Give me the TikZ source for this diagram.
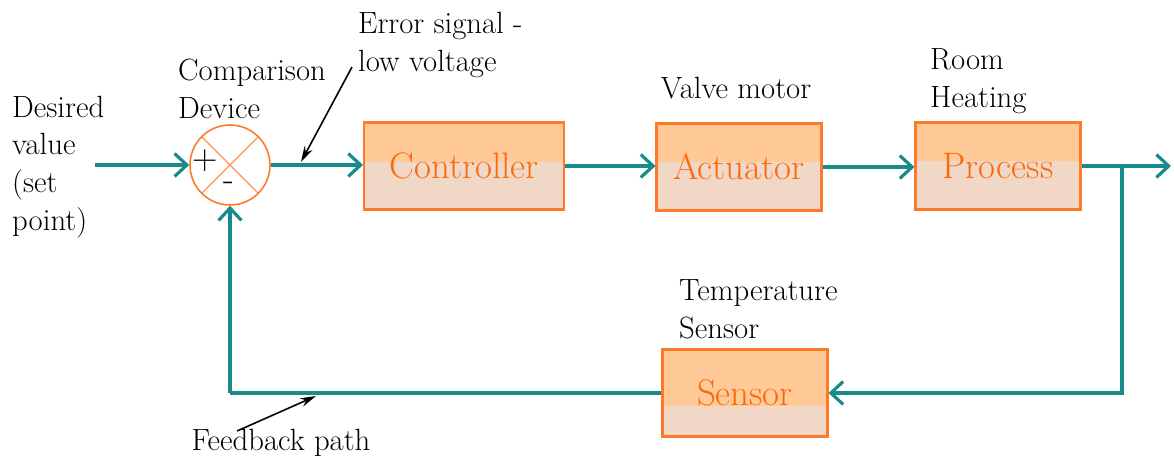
\documentclass[tikz,border=0pt]{standalone}
\usepackage{fontspec}
\usepackage{xcolor}
\usetikzlibrary{arrows.meta, positioning, calc}

\definecolor{sigline}{RGB}{24,138,138}
\definecolor{boxtop}{RGB}{255,202,152}
\definecolor{boxbot}{RGB}{240,215,198}
\definecolor{boxedge}{RGB}{255,122,40}
\definecolor{boxtext}{RGB}{255,104,10}

\begin{document}
\begin{tikzpicture}[
    x=0.02cm, y=-0.02cm,
    >=Stealth,
    every node/.style={font=\fontsize{17.5}{21.5}\selectfont, align=left},
    sig/.style={-{Straight Barb[length=7pt, width=13pt, line width=1.8pt]}, line width=2pt, sigline},
    wire/.style={line width=2pt, sigline},
    pointer/.style={-{Stealth[length=9pt, width=5pt]}, line width=0.9pt, black},
    block/.style={
      rectangle, draw=boxedge, line width=1.2pt, fill=boxtop,
      text=boxtext, font=\fontsize{21}{24}\selectfont,
      minimum width=3.3cm, minimum height=1.74cm,
      path picture={\fill[boxbot] (path picture bounding box.south west)
        rectangle ([yshift=#1]path picture bounding box.east);}
    },
    summer/.style={
      circle, draw=boxedge, line width=0.9pt, fill=white,
      minimum size=1.6cm, inner sep=0pt,
      path picture={\draw[boxedge!80, line width=0.8pt]
        (path picture bounding box.north west) -- (path picture bounding box.south east)
        (path picture bounding box.north east) -- (path picture bounding box.south west);}
    }
  ]

    \useasboundingbox[fill=white] (0,0) rectangle (1174,463);

    % Forward path
    \node[summer] (sum) at (230,165) {};
    \node[font=\fontsize{20}{20}\selectfont] (plus) at (205,161) {+};
    \node[font=\fontsize{20}{20}\selectfont] (minus) at (229,186) {-};

    \node[block=0.08cm, minimum width=4cm] (ctrl) at (464,166) {Controller};
    \node[block=0.1cm] (act)  at (739,167) {Actuator};
    \node[block=0.11cm] (proc) at (998,166) {Process};

    % Feedback path
    \node[block=-0.26cm] (sens) at (745,393) {Sensor};

    % Labels
    \node[anchor=west] (desired) at (6,167) {Desired\\value\\(set\\point)};
    \node[anchor=west] (compare) at (172,89) {Comparison\\Device};
    \node[anchor=west] (errtxt)  at (352,45) {Error signal -\\low voltage};
    \node (valve)   at (736,88) {Valve motor};
    \node[anchor=west] (room)    at (924,81) {Room\\Heating};
    \node[anchor=west] (temp)    at (673,309) {Temperature\\Sensor};
    \node (fbtxt)   at (281,443) {Feedback path};

    % Connectors
    \coordinate (src)  at (95,165);
    \coordinate (out)  at (1171,166);
    \coordinate (tap)  at (1122,166);
    \coordinate (back) at (tap |- sens.east);
    \coordinate (turn) at (sum.south |- sens.west);

    \draw[sig] (src) -- (sum.west);
    \draw[sig] (sum.east) -- (sum.east -| ctrl.west);
    \draw[sig] (ctrl.east) -- (ctrl.east -| act.west);
    \draw[sig] (act.east) -- (act.east -| proc.west);
    \draw[sig] (proc.east) -- (out);
    \draw[sig] (tap) -- (back) -- (sens.east);
    \draw[wire] (sens.west) -- (turn);
    \draw[sig] (turn) -- (sum.south);

    % Pointer arrows
    \coordinate (errtail) at (352,67);
    \coordinate (errtip)  at (301,162);
    \coordinate (fbtail)  at (237,431);
    \coordinate (fbtip)   at (316,396);
    \draw[pointer] (errtail) -- (errtip);
    \draw[pointer] (fbtail) -- (fbtip);

  \end{tikzpicture}
\end{document}
